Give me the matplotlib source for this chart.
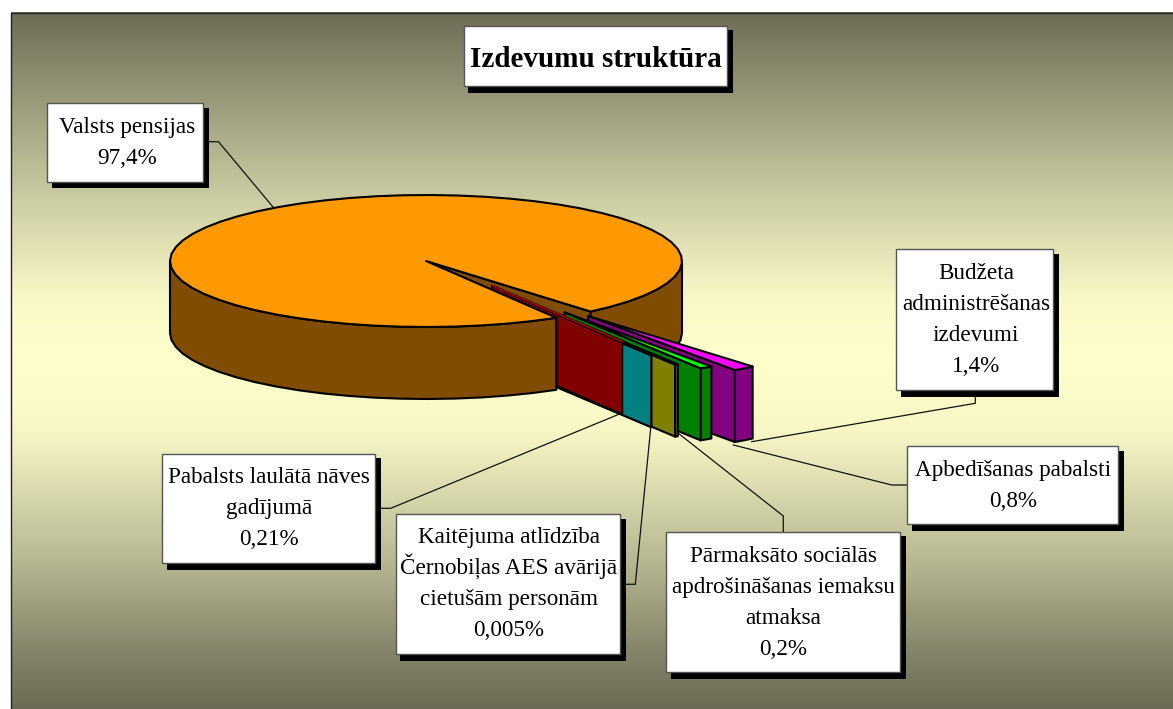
import numpy as np
import matplotlib
matplotlib.use("Agg")
import matplotlib.pyplot as plt
from matplotlib.patches import Rectangle, Polygon

# ---- data ----
categories = ["Valsts pensijas", "Pabalsts laulātā nāves gadījumā",
              "Kaitējuma atlīdzība Černobiļas AES avārijā cietušām personām",
              "Pārmaksāto sociālās apdrošināšanas iemaksu atmaksa",
              "Apbedīšanas pabalsti", "Budžeta administrēšanas izdevumi"]
values = [97.4, 0.21, 0.005, 0.2, 0.8, 1.4]
value_labels = ["97,4%", "0,21%", "0,005%", "0,2%", "0,8%", "1,4%"]
label_lines = [["Valsts pensijas"],
               ["Pabalsts laulātā nāves", "gadījumā"],
               ["Kaitējuma atlīdzība", "Černobiļas AES avārijā", "cietušām personām"],
               ["Pārmaksāto sociālās", "apdrošināšanas iemaksu", "atmaksa"],
               ["Apbedīšanas pabalsti"],
               ["Budžeta", "administrēšanas", "izdevumi"]]
title = "Izdevumu struktūra"

# ---- styles / layout (pixel space) ----
W, H = 1173, 709
top_colors = ["#FF9900", "#FF0000", "#00FFFF", "#FFFF00", "#00FF00", "#FF00FF"]
side_colors = ["#804D00", "#800000", "#008080", "#808000", "#008000", "#800080"]
explode = [0, 0.50, 0.69, 0.86, 0.98, 1.04]
explode_dy = [0, -3.5, -1, -1, -2.5, 0.5]
cx, cy, rx, ry, depth = 426, 261, 256, 66, 72
start_deg = 59.4          # first small slice starts here (screen: clockwise from +x, downward)
lw = 1.5
facet_deg = 6

# box: left, top, right, bottom ; text centre x ; first baseline
boxes = [(47, 103, 203, 181.5, 127, 133),
         (162, 453.7, 374.7, 563, 269, 483),
         (395.7, 514.3, 619.7, 654.3, 509, 543),
         (666.3, 531.7, 900, 672, 783, 562),
         (907.3, 446.3, 1117.7, 524.3, 1013, 476),
         (896, 249.3, 1053.3, 390, 976, 279)]
leaders = [[(209, 141.7), (218.5, 141.7), (273, 207)],
           [(381, 508.3), (390.7, 508.3), (622, 413)],
           [(626, 584.3), (635.3, 584.3), (651, 425)],
           [(783.3, 531.7), (783.3, 516), (678.3, 433.3)],
           [(907, 485), (891.7, 485), (733.3, 445)],
           [(975.3, 396), (975.3, 403.3), (751.7, 441.7)]]
title_box = (463.5, 25.7, 726.7, 86)
title_base = 66.7
line_gap = 31
font = "Liberation Serif"
fs = 16.7

fig = plt.figure(figsize=(W / 100, H / 100), dpi=100, facecolor="white")
ax = fig.add_axes([0, 0, 1, 1])
ax.set_xlim(0, W)
ax.set_ylim(H, 0)
ax.axis("off")

# background gradient: plateau of pale yellow in the middle
grad_y = [12, 100, 200, 300, 360, 430, 573, 650, 709]
grad_t = [0.0, 0.31, 0.66, 0.96, 1.0, 0.95, 0.47, 0.17, 0.0]
ys = np.linspace(12, H, 700)
dark = np.array([0x6C, 0x6C, 0x56]) / 255
light = np.array([0xFF, 0xFF, 0xCC]) / 255
t = np.interp(ys, grad_y, grad_t)[:, None]
img = (dark[None, :] * (1 - t) + light[None, :] * t)[:, None, :]
ax.imshow(img, extent=(10.5, W + 2, H, 12.5), aspect="auto", zorder=0)
ax.set_xlim(0, W)
ax.set_ylim(H, 0)
ax.plot([10.5, 10.5, W], [H, 12.5, 12.5], color="#222222", lw=1.0, zorder=1)

# angles from values (screen angle, clockwise positive since y points down)
total = sum(values)
sweeps = [v / total * 360 for v in values]
angs = [start_deg]
for s in sweeps[1:]:
    angs.append(angs[-1] - s)
big_from = angs[-1]           # upper edge of the gap
big_to = start_deg            # lower edge of the gap


def pt(a, r=1.0, ox=0.0, oy=0.0):
    a = np.radians(a)
    return (ox + cx + rx * r * np.cos(a), oy + cy + ry * r * np.sin(a))


def arc(a0, a1, ox=0.0, oy=0.0, n=None):
    if n is None:
        n = max(2, int(abs(a1 - a0) / facet_deg) + 1)
    return [pt(a, 1.0, ox, oy) for a in np.linspace(a0, a1, n)]


def poly(points, color, z):
    ax.add_patch(Polygon(points, closed=True, facecolor=color, edgecolor="black",
                         lw=lw, joinstyle="round", zorder=z))


def down(points):
    return [(x, y + depth) for x, y in points]


# big slice: rear part of wall and the cut face seen through the gap
apex = (cx, cy)
edge_u = pt(big_from)
poly([apex, edge_u, (edge_u[0], edge_u[1] + depth), (cx, cy + depth)], side_colors[0], 2)
right_arc = arc(big_from, 0)
poly(right_arc + down(right_arc)[::-1], side_colors[0], 2)

# exploded slices, far to near
z = 3
for i in range(len(values) - 1, 0, -1):
    a1, a0 = angs[i - 1], angs[i]     # a0 < a1 ; a1 nearer the viewer
    mid = np.radians((a0 + a1) / 2)
    ox = explode[i] * rx * np.cos(mid)
    oy = explode[i] * ry * np.sin(mid) + explode_dy[i]
    tip = (cx + ox, cy + oy)
    rim = arc(a0, a1, ox, oy, 8)
    # outer wall (the nearest, narrow one sits behind its neighbour's cut face)
    poly(rim + down(rim)[::-1], side_colors[i], z - 0.25 if i == 1 else z)
    # cut face towards the viewer
    end = pt(a1, 1.0, ox, oy)
    poly([tip, end, (end[0], end[1] + depth), (tip[0], tip[1] + depth)], side_colors[i], z)
    # top
    poly([tip] + rim, top_colors[i], z)
    if i == 1:   # hairline top: keep its colour visible inside the outline
        ax.plot([tip[0], rim[-1][0]], [tip[1], rim[-1][1] - 1], color="#C00000",
                lw=1.0, zorder=z + 0.01)
    z += 0.1

# big slice: front wall and top
front_arc = arc(big_to, 180)
poly(front_arc + down(front_arc)[::-1], side_colors[0], 4)
poly([apex] + arc(big_to, 360 + big_from), top_colors[0], 5)

# leaders
for pts in leaders:
    xs, ys_ = zip(*pts)
    ax.plot(xs, ys_, color="#111111", lw=0.9, zorder=6, solid_joinstyle="miter")


def shadow_box(l, t, r, b, off_x=6, off_y=6.5):
    ax.add_patch(Rectangle((l + 4.5, t + 4.5), r - l + off_x - 4.5, b - t + off_y - 4.5,
                           facecolor="black", edgecolor="none", zorder=7))
    ax.add_patch(Rectangle((l, t), r - l, b - t, facecolor="white",
                           edgecolor="#555555", lw=1.0, zorder=8))


for i, bx in enumerate(boxes):
    l, t_, r, b, tx, ty = bx
    shadow_box(l, t_, r, b)
    for j, line in enumerate(label_lines[i] + [value_labels[i]]):
        ax.text(tx, ty + j * line_gap, line, ha="center", va="baseline",
                family=font, fontsize=fs, color="black", zorder=9)

l, t_, r, b = title_box
shadow_box(l, t_, r, b)
ax.text((l + r) / 2 + 0.5, title_base, title, ha="center", va="baseline", family=font,
        fontsize=21, fontweight="bold", color="black", zorder=9)

fig.savefig("out.png", dpi=100, facecolor="white")
